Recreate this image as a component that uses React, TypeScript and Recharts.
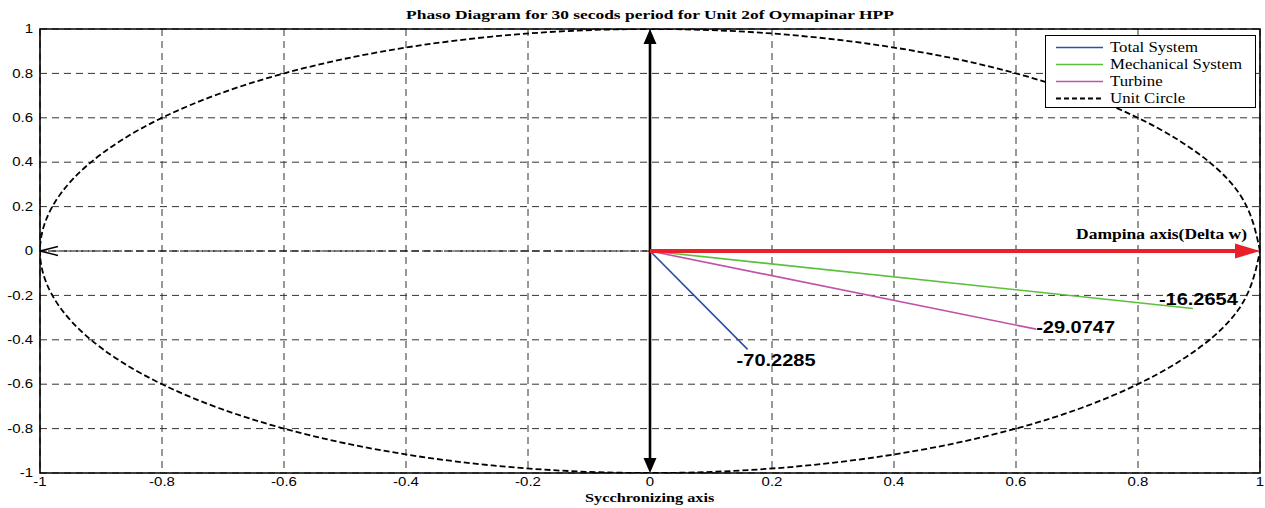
import React from 'react';
import { ComposedChart, Line, XAxis, YAxis, CartesianGrid, ReferenceLine, ReferenceArea, Legend, LabelList } from 'recharts';

// phasor tips
const seriesNames = ['Total System', 'Mechanical System', 'Turbine'];
const seriesColors = ['#2f4fa2', '#5cbf3c', '#c052a9'];
const tipX = [0.16, 0.89, 0.633];
const tipY = [-0.443, -0.259, -0.352];
const angleLabels = ['-70.2285', '-16.2654', '-29.0747'];

// unit circle, every 15 degrees
const circleX = [1, 0.9659, 0.866, 0.7071, 0.5, 0.2588, 0, -0.2588, -0.5, -0.7071, -0.866, -0.9659, -1,
  -0.9659, -0.866, -0.7071, -0.5, -0.2588, 0, 0.2588, 0.5, 0.7071, 0.866, 0.9659, 1];
const circleY = [0, 0.2588, 0.5, 0.7071, 0.866, 0.9659, 1, 0.9659, 0.866, 0.7071, 0.5, 0.2588, 0,
  -0.2588, -0.5, -0.7071, -0.866, -0.9659, -1, -0.9659, -0.866, -0.7071, -0.5, -0.2588, 0];

const axisTicks = [-1, -0.8, -0.6, -0.4, -0.2, 0, 0.2, 0.4, 0.6, 0.8, 1];

const labelOffsets = [
  { dx: -11, dy: 17 },
  { dx: -34, dy: -3 },
  { dx: 0, dy: 4 },
];

const STRETCH = 1.25;
const SERIF = '"Liberation Serif", "Times New Roman", serif';
const SANS = '"Liberation Sans", Arial, sans-serif';

const circleData = circleX.map((x, i) => ({ x, y: circleY[i] }));
const phasorData = tipX.map((x, i) => [{ x: 0, y: 0 }, { x, y: tipY[i] }]);

const legendItems = [
  ...seriesNames.map((name, i) => ({ name, color: seriesColors[i], dash: undefined as string | undefined })),
  { name: 'Unit Circle', color: '#000', dash: '5 3' },
];

function XTick({ x, y, payload }: any) {
  return (
    <g transform={`translate(${x},${y})`}>
      <text transform={`scale(${STRETCH},1)`} textAnchor="middle" dy="0.71em" fontSize={12} fontFamily={SANS} fill="#000">
        {String(payload.value)}
      </text>
    </g>
  );
}

function YTick({ x, y, payload }: any) {
  return (
    <g transform={`translate(${x},${y})`}>
      <text transform={`scale(${STRETCH},1)`} textAnchor="end" dy="0.35em" fontSize={12} fontFamily={SANS} fill="#000">
        {String(payload.value)}
      </text>
    </g>
  );
}

type ArrowOpts = {
  color: string;
  width: number;
  headLen: number;
  headHalf: number;
  both?: boolean;
  open?: boolean;
  dash?: string;
  label?: string;
};

function arrowShape(o: ArrowOpts) {
  return (props: any) => {
    const { x1, y1, x2, y2 } = props;
    const len = Math.hypot(x2 - x1, y2 - y1) || 1;
    const ux = (x2 - x1) / len;
    const uy = (y2 - y1) / len;
    const nx = -uy;
    const ny = ux;
    const head = (tx: number, ty: number, dx: number, dy: number) => {
      const bx = tx - dx * o.headLen;
      const by = ty - dy * o.headLen;
      const pts = `${bx + nx * o.headHalf},${by + ny * o.headHalf} ${tx},${ty} ${bx - nx * o.headHalf},${by - ny * o.headHalf}`;
      return o.open ? (
        <polyline points={pts} fill="none" stroke={o.color} strokeWidth={1.3} />
      ) : (
        <polygon points={pts} fill={o.color} stroke="none" />
      );
    };
    const sx = o.both ? x1 + ux * o.headLen * 0.8 : x1;
    const sy = o.both ? y1 + uy * o.headLen * 0.8 : y1;
    const ex = o.open ? x2 : x2 - ux * o.headLen * 0.8;
    const ey = o.open ? y2 : y2 - uy * o.headLen * 0.8;
    return (
      <g>
        <line x1={sx} y1={sy} x2={ex} y2={ey} stroke={o.color} strokeWidth={o.width} strokeDasharray={o.dash} />
        {head(x2, y2, ux, uy)}
        {o.both && head(x1, y1, -ux, -uy)}
        {o.label && (
          <g transform={`translate(${x2 - 13},${y2 - 12})`}>
            <text transform={`scale(${STRETCH},1)`} textAnchor="end" fontSize={14} fontWeight="bold" fontFamily={SERIF} fill="#000">
              {o.label}
            </text>
          </g>
        )}
      </g>
    );
  };
}

function tipLabel(i: number) {
  return (props: any) => {
    const { x, y, index } = props;
    if (index !== 1) return null;
    const off = labelOffsets[i];
    return (
      <g transform={`translate(${x + off.dx},${y + off.dy})`}>
        <text transform={`scale(${STRETCH},1)`} fontSize={16} fontWeight="bold" fontFamily={SANS} fill="#000">
          {angleLabels[i]}
        </text>
      </g>
    );
  };
}

function LegendBox() {
  return (
    <div
      style={{
        border: '1px solid #000',
        background: '#fff',
        padding: '3px 0 2px 0',
        boxSizing: 'border-box',
        width: 211,
        height: 73,
      }}
    >
      {legendItems.map((item) => (
        <div key={item.name} style={{ display: 'flex', alignItems: 'center', height: 17 }}>
          <svg width={54} height={17} style={{ marginLeft: 10, flex: 'none' }}>
            <line x1={0} y1={8.5} x2={47} y2={8.5} stroke={item.color} strokeWidth={item.dash ? 1.8 : 1.6} strokeDasharray={item.dash} />
          </svg>
          <span
            style={{
              display: 'inline-block',
              fontFamily: SERIF,
              fontSize: 14,
              lineHeight: '17px',
              color: '#000',
              transform: 'scaleX(1.2)',
              transformOrigin: 'left center',
              whiteSpace: 'nowrap',
            }}
          >
            {item.name}
          </span>
        </div>
      ))}
    </div>
  );
}

export default function App() {
  return (
    <div style={{ position: 'absolute', left: 0, top: 0, width: 1265, height: 508, background: '#fff' }}>
      <div
        style={{
          position: 'absolute',
          left: 0,
          top: 8,
          width: 1300,
          textAlign: 'center',
          fontFamily: SERIF,
          fontWeight: 'bold',
          fontSize: 13,
          lineHeight: '13px',
          zIndex: 2,
        }}
      >
        <span style={{ display: 'inline-block', transform: 'scaleX(1.34)' }}>
          Phaso Diagram for 30 secods period for Unit 2of Oymapinar HPP
        </span>
      </div>
      <ComposedChart width={1265} height={508} margin={{ top: 29, right: 5, bottom: 15, left: 10 }}>
        <CartesianGrid stroke="#333" strokeDasharray="7 5" />
        <XAxis
          type="number"
          dataKey="x"
          domain={[-1, 1]}
          ticks={axisTicks}
          allowDataOverflow
          height={20}
          tickSize={4}
          tickMargin={0}
          tickLine={false}
          axisLine={false}
          tick={<XTick />}
          interval={0}
        />
        <YAxis
          type="number"
          dataKey="y"
          domain={[-1, 1]}
          ticks={axisTicks}
          allowDataOverflow
          width={30}
          tickSize={4}
          tickMargin={3}
          tickLine={false}
          axisLine={false}
          tick={<YTick />}
          interval={0}
        />
        <ReferenceArea x1={-1} x2={1} y1={-1} y2={1} fill="none" stroke="#000" strokeWidth={1.6} />
        <Line
          data={circleData}
          dataKey="y"
          name="Unit Circle"
          type="natural"
          stroke="#000"
          strokeWidth={1.8}
          strokeDasharray="6 3"
          dot={false}
          activeDot={false}
          isAnimationActive={false}
        />
        <ReferenceLine
          segment={[{ x: 0, y: 0 }, { x: -1, y: 0 }]}
          shape={arrowShape({ color: '#000', width: 1.2, headLen: 18, headHalf: 4.5, open: true, dash: '8 3' })}
        />
        <ReferenceLine
          segment={[{ x: 0, y: -1 }, { x: 0, y: 1 }]}
          shape={arrowShape({ color: '#000', width: 2.6, headLen: 15, headHalf: 6.5, both: true })}
        />
        {phasorData.map((d, i) => (
          <Line
            key={seriesNames[i]}
            data={d}
            dataKey="y"
            name={seriesNames[i]}
            type="linear"
            stroke={seriesColors[i]}
            strokeWidth={1.6}
            dot={false}
            activeDot={false}
            isAnimationActive={false}
          >
            <LabelList dataKey="y" content={tipLabel(i)} />
          </Line>
        ))}
        <ReferenceLine
          segment={[{ x: 0, y: 0 }, { x: 1, y: 0 }]}
          shape={arrowShape({ color: '#e8202a', width: 4, headLen: 25, headHalf: 7.5, label: 'Dampina axis(Delta w)' })}
        />
        <Legend
          layout="vertical"
          align="center"
          verticalAlign="middle"
          wrapperStyle={{ left: 1045, top: 35, width: 211, height: 73 }}
          content={() => <LegendBox />}
        />
      </ComposedChart>
      <div
        style={{
          position: 'absolute',
          left: 0,
          top: 491,
          width: 1300,
          textAlign: 'center',
          fontFamily: SERIF,
          fontWeight: 'bold',
          fontSize: 13,
          lineHeight: '13px',
        }}
      >
        <span style={{ display: 'inline-block', transform: `scaleX(${STRETCH})` }}>Sycchronizing axis</span>
      </div>
    </div>
  );
}
